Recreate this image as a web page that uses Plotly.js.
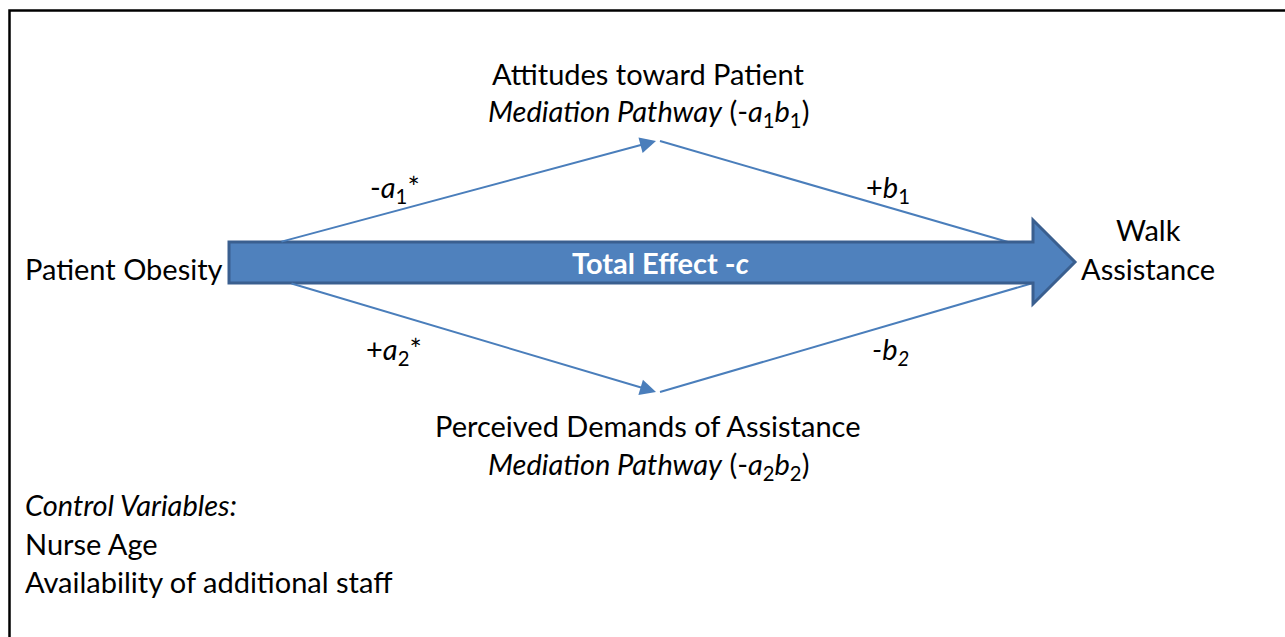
<!DOCTYPE html>
<html>
<head>
<meta charset="utf-8">
<script src="https://cdn.plot.ly/plotly-3.0.1.min.js"></script>
<style>html,body{margin:0;padding:0;background:#fff;}#chart{width:1285px;height:637px;}</style>
</head>
<body>
<div id="chart"></div>
<script>
// ---- diagram content (text) ----
const mediatorTitles = ["Attitudes toward Patient", "Perceived Demands of Assistance"];
const mediatorPathways = ["<i>Mediation Pathway</i> (-<i>a</i><sub>1</sub><i>b</i><sub>1</sub>)",
                          "<i>Mediation Pathway</i> (-<i>a</i><sub>2</sub><i>b</i><sub>2</sub>)"];
const predictorLabel = "Patient Obesity";
const outcomeLines = ["Walk", "Assistance"];
const totalEffectLabel = "<b>Total Effect -<i>c</i></b>";
const pathALabels = ["-<i>a</i><sub>1</sub>*", "+<i>a</i><sub>2</sub>*"];
const pathBLabels = ["+<i>b</i><sub>1</sub>", "<i>-b<sub>2</sub></i>"];
const controlHeader = "<i>Control Variables:</i>";
const controlVariables = ["Nurse Age", "Availability of additional staff"];

// ---- layout geometry (pixel coordinate system) ----
const G = {
  bodyLeft: 229, bodyRight: 1033, bodyTop: 242, bodyBottom: 283,
  headTop: 220, headBottom: 304, tipX: 1075, midY: 262,
  med: [{x: 658, y: 141, titleY: 73, pathY: 112, aLabel: [395, 188], bLabel: [888, 188], startX: 280, endX: 1008, attachY: 242},
        {x: 658, y: 392, titleY: 425, pathY: 465, aLabel: [394, 350], bLabel: [890, 350], startX: 290, endX: 1033, attachY: 283}]
};

const FONT = "Lato, 'Open Sans', sans-serif";
const FS = 29;
const lineColor = "#4a7ebb";

const traces = [];
const annotations = [];

G.med.forEach((m, i) => {
  // a-path line with arrowhead into mediator
  annotations.push({x: m.x - 2, y: m.y, ax: m.startX, ay: m.attachY, xref: 'x', yref: 'y', axref: 'x', ayref: 'y',
    showarrow: true, arrowhead: 2, arrowsize: 1.6, arrowwidth: 2, arrowcolor: lineColor, text: ''});
  // b-path line from mediator into outcome arrow
  traces.push({type: 'scatter', mode: 'lines', x: [m.x + 2, m.endX], y: [m.y, m.attachY],
    line: {color: lineColor, width: 2}, hoverinfo: 'skip', showlegend: false});
  annotations.push({x: 648, y: m.titleY, text: mediatorTitles[i], showarrow: false, xref: 'x', yref: 'y',
    font: {family: FONT, size: FS, color: '#000'}});
  annotations.push({x: 648, y: m.pathY, text: mediatorPathways[i], showarrow: false, xref: 'x', yref: 'y',
    font: {family: FONT, size: FS, color: '#000'}});
  annotations.push({x: m.aLabel[0], y: m.aLabel[1], text: pathALabels[i], showarrow: false, xref: 'x', yref: 'y',
    font: {family: FONT, size: FS, color: '#000'}});
  annotations.push({x: m.bLabel[0], y: m.bLabel[1], text: pathBLabels[i], showarrow: false, xref: 'x', yref: 'y',
    font: {family: FONT, size: FS, color: '#000'}});
});

annotations.push({x: 23, y: 268, xanchor: 'left', text: predictorLabel, showarrow: false, xref: 'x', yref: 'y',
  font: {family: FONT, size: FS, color: '#000'}});
outcomeLines.forEach((t, i) => annotations.push({x: 1148, y: 229 + i * 39, text: t, showarrow: false, xref: 'x', yref: 'y',
  font: {family: FONT, size: FS, color: '#000'}}));
annotations.push({x: 660, y: 262, text: totalEffectLabel, showarrow: false, xref: 'x', yref: 'y',
  font: {family: FONT, size: FS, color: '#fff'}});
annotations.push({x: 23, y: 504, xanchor: 'left', text: controlHeader, showarrow: false, xref: 'x', yref: 'y',
  font: {family: FONT, size: FS, color: '#000'}});
controlVariables.forEach((t, i) => annotations.push({x: 23, y: 543 + i * 38, xanchor: 'left', text: t, showarrow: false,
  xref: 'x', yref: 'y', font: {family: FONT, size: FS, color: '#000'}}));

const arrowPath = `M${G.bodyLeft},${G.bodyTop} L${G.bodyRight},${G.bodyTop} L${G.bodyRight},${G.headTop} L${G.tipX},${G.midY} ` +
  `L${G.bodyRight},${G.headBottom} L${G.bodyRight},${G.bodyBottom} L${G.bodyLeft},${G.bodyBottom} Z`;

const shapes = [
  {type: 'path', path: arrowPath, xref: 'x', yref: 'y', fillcolor: '#4f81bd', line: {color: '#3a5f8f', width: 3}, layer: 'above'},
  {type: 'rect', xref: 'x', yref: 'y', x0: 9.5, x1: 1300, y0: 10.5, y1: 700, line: {color: '#000', width: 2.5}, fillcolor: 'rgba(0,0,0,0)', layer: 'above'}
];

const layout = {
  width: 1285, height: 637, margin: {l: 0, r: 0, t: 0, b: 0},
  paper_bgcolor: '#fff', plot_bgcolor: '#fff',
  xaxis: {range: [0, 1285], visible: false, fixedrange: true},
  yaxis: {range: [637, 0], visible: false, fixedrange: true},
  shapes: shapes, annotations: annotations, showlegend: false
};

Plotly.newPlot('chart', traces, layout, {staticPlot: true});
</script>
</body>
</html>
